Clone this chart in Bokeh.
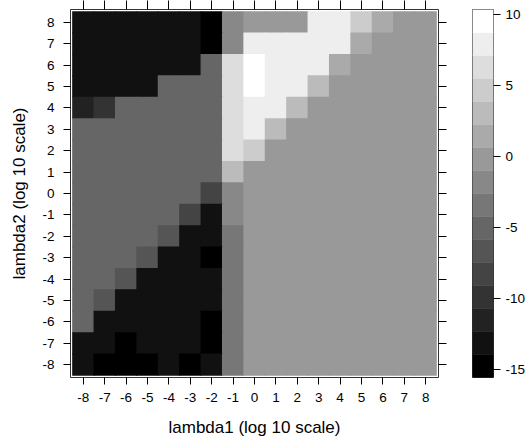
from bokeh.plotting import figure
from bokeh.models import (ColumnDataSource, LinearColorMapper, LinearAxis,
                          FixedTicker, Range1d)
from bokeh.transform import transform
from bokeh.layouts import row
from bokeh.embed import file_html
from bokeh.resources import INLINE

# ---- data ----
lambda1 = list(range(-8, 9))          # x categories (log10 scale)
lambda2 = list(range(8, -9, -1))      # y categories, top row first

# cell values, one row per lambda2 (from 8 down to -8), columns lambda1 -8..8
z_rows = [
    [-13.1, -13.1, -13.1, -13.1, -13.1, -13.1, -14.7, -1.8, -0.1, -0.1, -0.1, 8.0, 8.0, 4.7, 1.5, -0.1, -0.1],
    [-13.1, -13.1, -13.1, -13.1, -13.1, -13.1, -14.7, -1.8, 8.0, 8.0, 8.0, 8.0, 8.0, 1.5, -0.1, -0.1, -0.1],
    [-13.1, -13.1, -13.1, -13.1, -13.1, -13.1, -5.0, 6.3, 9.6, 8.0, 8.0, 8.0, 1.5, -0.1, -0.1, -0.1, -0.1],
    [-13.1, -13.1, -13.1, -13.1, -5.0, -5.0, -5.0, 6.3, 9.6, 8.0, 8.0, 3.1, -0.1, -0.1, -0.1, -0.1, -0.1],
    [-11.5, -9.9, -5.0, -5.0, -5.0, -5.0, -5.0, 6.3, 8.0, 8.0, 3.1, -0.1, -0.1, -0.1, -0.1, -0.1, -0.1],
    [-5.0, -5.0, -5.0, -5.0, -5.0, -5.0, -5.0, 6.3, 8.0, 3.1, -0.1, -0.1, -0.1, -0.1, -0.1, -0.1, -0.1],
    [-5.0, -5.0, -5.0, -5.0, -5.0, -5.0, -5.0, 6.3, 4.7, -0.1, -0.1, -0.1, -0.1, -0.1, -0.1, -0.1, -0.1],
    [-5.0, -5.0, -5.0, -5.0, -5.0, -5.0, -5.0, 3.1, -0.1, -0.1, -0.1, -0.1, -0.1, -0.1, -0.1, -0.1, -0.1],
    [-5.0, -5.0, -5.0, -5.0, -5.0, -5.0, -8.2, -1.8, -0.1, -0.1, -0.1, -0.1, -0.1, -0.1, -0.1, -0.1, -0.1],
    [-5.0, -5.0, -5.0, -5.0, -5.0, -8.2, -13.1, -1.8, -0.1, -0.1, -0.1, -0.1, -0.1, -0.1, -0.1, -0.1, -0.1],
    [-5.0, -5.0, -5.0, -5.0, -6.6, -13.1, -13.1, -3.4, -0.1, -0.1, -0.1, -0.1, -0.1, -0.1, -0.1, -0.1, -0.1],
    [-5.0, -5.0, -5.0, -6.6, -13.1, -13.1, -14.7, -3.4, -0.1, -0.1, -0.1, -0.1, -0.1, -0.1, -0.1, -0.1, -0.1],
    [-5.0, -5.0, -6.6, -13.1, -13.1, -13.1, -13.1, -3.4, -0.1, -0.1, -0.1, -0.1, -0.1, -0.1, -0.1, -0.1, -0.1],
    [-5.0, -6.6, -13.1, -13.1, -13.1, -13.1, -13.1, -3.4, -0.1, -0.1, -0.1, -0.1, -0.1, -0.1, -0.1, -0.1, -0.1],
    [-5.0, -13.1, -13.1, -13.1, -13.1, -13.1, -14.7, -3.4, -0.1, -0.1, -0.1, -0.1, -0.1, -0.1, -0.1, -0.1, -0.1],
    [-13.1, -13.1, -14.7, -13.1, -13.1, -13.1, -14.7, -3.4, -0.1, -0.1, -0.1, -0.1, -0.1, -0.1, -0.1, -0.1, -0.1],
    [-13.1, -14.7, -14.7, -14.7, -13.1, -14.7, -13.1, -3.4, -0.1, -0.1, -0.1, -0.1, -0.1, -0.1, -0.1, -0.1, -0.1],
]

z_low, z_high = -15.53, 10.37          # colour key limits
n_levels = 16
palette = ["#%02x%02x%02x" % (v, v, v) for v in
           [round(i * 255 / (n_levels - 1)) for i in range(n_levels)]]
key_ticks = [-15, -10, -5, 0, 5, 10]
axis_ticks = list(range(-8, 9))

FONT = "Liberation Sans"
TICK_FS = "13.5px"
TITLE_FS = "17px"
LINE_COL = "#333333"

xs, ys, zs = [], [], []
for yi, rowvals in zip(lambda2, z_rows):
    for xi, zv in zip(lambda1, rowvals):
        xs.append(xi)
        ys.append(yi)
        zs.append(zv)
src = ColumnDataSource(dict(x=xs, y=ys, z=zs))

mapper = LinearColorMapper(palette=palette, low=z_low, high=z_high)

half = 8.598
p = figure(width=450, height=441, x_range=Range1d(-half, half), y_range=Range1d(-half, half),
           x_axis_type=None, y_axis_type=None, output_backend="svg",
           toolbar_location=None, min_border_left=70, min_border_right=12,
           min_border_top=9, min_border_bottom=64)
p.outline_line_color = LINE_COL
p.outline_line_width = 1
p.background_fill_color = "white"
p.border_fill_color = "white"

p.rect(x="x", y="y", width=1.04, height=1.04, source=src,
       fill_color=transform("z", mapper), line_color=None)


def hyphen_labels(ticks):
    return {t: str(t) for t in ticks}


def mk_axis(label=None, labels=True, tick_out=7):
    ax = LinearAxis(ticker=FixedTicker(ticks=axis_ticks, minor_ticks=[]))
    ax.axis_line_color = None
    ax.major_tick_line_color = "black"
    ax.major_tick_in = 0
    ax.major_tick_out = tick_out
    ax.minor_tick_line_color = None
    ax.major_label_text_font = FONT
    ax.major_label_text_font_size = TICK_FS
    ax.major_label_text_color = "black"
    if labels:
        ax.major_label_overrides = hyphen_labels(axis_ticks)
    else:
        ax.major_label_overrides = {t: "" for t in axis_ticks}
        ax.major_label_standoff = 0
    if label:
        ax.axis_label = label
        ax.axis_label_text_font = FONT
        ax.axis_label_text_font_size = TITLE_FS
        ax.axis_label_text_font_style = "normal"
        ax.axis_label_text_color = "black"
    return ax


bx = mk_axis("lambda1 (log 10 scale)")
bx.major_label_standoff = 8
bx.axis_label_standoff = 13
p.add_layout(bx, "below")

ly = mk_axis("lambda2 (log 10 scale)")
ly.major_label_standoff = 9
ly.axis_label_standoff = 10
p.add_layout(ly, "left")

tx = mk_axis(labels=False, tick_out=9)
p.add_layout(tx, "above")
ry = mk_axis(labels=False, tick_out=8)
p.add_layout(ry, "right")

# ---- colour key ----
step = (z_high - z_low) / n_levels
band_bottom = [z_low + k * step for k in range(n_levels)]
band_top = [z_low + (k + 1) * step for k in range(n_levels)]
key_src = ColumnDataSource(dict(bottom=band_bottom, top=band_top, color=palette))

cb = figure(width=78, height=441, x_range=Range1d(0, 1), y_range=Range1d(z_low, z_high),
            x_axis_type=None, y_axis_type=None, output_backend="svg",
            toolbar_location=None, min_border_left=22, min_border_right=31,
            min_border_top=9, min_border_bottom=63)
cb.outline_line_color = LINE_COL
cb.outline_line_width = 1
cb.quad(left=0, right=1, bottom="bottom", top="top", fill_color="color",
        line_color="color", line_width=0.5, source=key_src)
kax = LinearAxis(ticker=FixedTicker(ticks=key_ticks, minor_ticks=[]))
kax.axis_line_color = None
kax.major_tick_line_color = "black"
kax.major_tick_in = 0
kax.major_tick_out = 7
kax.minor_tick_line_color = None
kax.major_label_standoff = 5
kax.major_label_text_font = FONT
kax.major_label_text_font_size = TICK_FS
kax.major_label_text_color = "black"
kax.major_label_overrides = hyphen_labels(key_ticks)
cb.add_layout(kax, "right")

layout = row(p, cb)
open("out.html", "w").write(file_html(layout, INLINE))
